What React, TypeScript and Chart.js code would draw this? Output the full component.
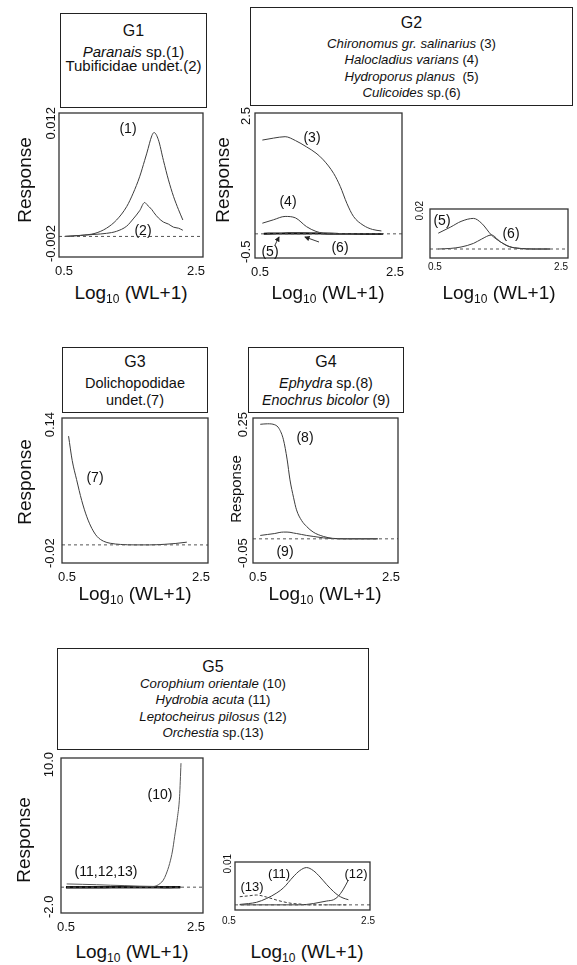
import React, { useEffect, useRef } from "react";
import { Chart, registerables } from "chart.js";
Chart.register(...registerables);

const FONT = "'Liberation Sans', Arial, Helvetica, sans-serif";

// ---- shared axis ticks ----
const xTickValues = [0.5, 2.5];
const xTickLabels = ["0.5", "2.5"];

// ---- G1 ----
const g1X = [0.58, 0.8, 1.0, 1.16, 1.3, 1.44, 1.53, 1.62, 1.69, 1.72, 1.79, 1.82, 1.88, 1.95, 2.02, 2.09, 2.16, 2.22];
const g1Paranais = [0.0, 0.0001, 0.0003, 0.0008, 0.0016, 0.0029, 0.0042, 0.0058, 0.0074, 0.0081, 0.0098, 0.0101, 0.0094, 0.0074, 0.0055, 0.0039, 0.0026, 0.0016];
const g1Tubificidae = [0.0, 0.0001, 0.0002, 0.0003, 0.0005, 0.001, 0.0017, 0.0025, 0.0033, 0.0031, 0.0026, 0.0023, 0.0018, 0.0014, 0.0012, 0.0009, 0.0008, 0.0006];
const g1YTicks = [0.012, -0.002];
const g1YLabels = ["0.012", "-0.002"];

// ---- G2 main ----
const g2X = [0.6, 0.75, 0.91, 1.05, 1.2, 1.33, 1.43, 1.57, 1.66, 1.75, 1.84, 1.97, 2.1, 2.22];
const g2Chironomus = [1.94, 1.98, 2.01, 1.93, 1.8, 1.67, 1.53, 1.25, 0.98, 0.63, 0.36, 0.18, 0.09, 0.06];
const g2Halocladius = [0.22, 0.29, 0.36, 0.33, 0.15, 0.05, 0.015, 0.005, 0.002, 0.001, 0.0, 0.0, 0.0, 0.0];
const g2YTicks = [2.5, -0.5];
const g2YLabels = ["2.5", "-0.5"];

// ---- G2 inset (species 5 and 6) ----
const g2sX = [0.62, 0.8, 0.95, 1.13, 1.25, 1.39, 1.52, 1.65, 1.8, 2.0, 2.24];
const g2Hydroporus = [0.0079, 0.011, 0.0138, 0.0153, 0.0128, 0.007, 0.0036, 0.0012, 0.0003, 0.0, 0.0];
const g2Culicoides = [0.0, 0.0003, 0.001, 0.0028, 0.005, 0.007, 0.0036, 0.0012, 0.0003, 0.0, 0.0];
const g2sYTicks = [0.02];
const g2sYLabels = ["0.02"];

// ---- G3 ----
const g3X = [0.59, 0.64, 0.7, 0.77, 0.84, 0.91, 0.98, 1.07, 1.16, 1.3, 1.5, 1.7, 1.9, 2.05, 2.21];
const g3Dolichopodidae = [0.12, 0.093, 0.072, 0.049, 0.031, 0.018, 0.0093, 0.004, 0.0018, 0.0005, 0.0, 0.0, 0.0006, 0.0015, 0.003];
const g3YTicks = [0.14, -0.02];
const g3YLabels = ["0.14", "-0.02"];

// ---- G4 ----
const g4X = [0.6, 0.7, 0.8, 0.86, 0.92, 0.97, 1.01, 1.06, 1.1, 1.17, 1.24, 1.33, 1.47, 1.6, 1.8, 2.0, 2.22];
const g4Ephydra = [0.237, 0.238, 0.236, 0.228, 0.205, 0.165, 0.122, 0.085, 0.06, 0.038, 0.0255, 0.014, 0.005, 0.001, 0.0, 0.0, 0.0];
const g4Enochrus = [0.007, 0.009, 0.011, 0.013, 0.014, 0.014, 0.0135, 0.012, 0.011, 0.009, 0.007, 0.005, 0.002, 0.0005, 0.0, 0.0, 0.0];
const g4YTicks = [0.25, -0.05];
const g4YLabels = ["0.25", "-0.05"];

// ---- G5 main ----
const g5X = [0.58, 0.8, 1.0, 1.2, 1.4, 1.6, 1.8, 1.84, 1.9, 1.94, 1.98, 2.03, 2.07, 2.1, 2.14, 2.17, 2.19];
const g5Corophium = [0.25, 0.22, 0.19, 0.15, 0.12, 0.08, 0.06, 0.1, 0.3, 0.54, 1.0, 1.83, 2.8, 3.9, 5.4, 7.0, 9.6];
const g5YTicks = [10, -2];
const g5YLabels = ["10.0", "-2.0"];

// ---- G5 inset (species 11, 12, 13) ----
const g5sX = [0.57, 0.7, 0.82, 0.97, 1.12, 1.22, 1.36, 1.46, 1.56, 1.66, 1.76, 1.86, 1.96, 2.03, 2.1, 2.18];
const g5Hydrobia = [0.0001, 0.0003, 0.0006, 0.0015, 0.0028, 0.004, 0.0065, 0.008, 0.0087, 0.008, 0.0065, 0.0047, 0.0031, 0.0022, 0.0016, 0.0012];
const g5Leptocheirus = [0.0, 0.0, 0.0, 0.0, 0.0, 0.0, 0.0, 0.0, 0.0001, 0.0003, 0.0006, 0.0009, 0.0012, 0.002, 0.0035, 0.0058];
const g5Orchestia = [0.0019, 0.0021, 0.0023, 0.0018, 0.0011, 0.0007, 0.0003, 0.0002, 0.0, 0.0, 0.0, 0.0, 0.0, 0.0, 0.0, 0.0];
const g5sYTicks = [0.01];
const g5sYLabels = ["0.01"];

const baselineX = [0.5, 2.5];
const baselineY = [0, 0];

type Series = { xs: number[]; ys: number[]; color?: string; width?: number; dash?: number[] };

type PanelProps = {
  l: number; t: number; r: number; b: number;
  yMin: number; yMax: number;
  yTicks: number[]; yLabels: string[];
  series: Series[];
  tickFont: number;
  yLabelOffset: number;
  xLabelTop: number;
  xLabelShift: [number, number];
  topStart?: number;
};

function Panel(p: PanelProps) {
  const ref = useRef<HTMLCanvasElement>(null);
  const padL = 30, padR = 10, padT = 12, padB = 24;
  const w = p.r - p.l + padL + padR;
  const h = p.b - p.t + padT + padB;
  useEffect(() => {
    const datasets: any[] = [
      {
        data: baselineX.map((x, i) => ({ x, y: baselineY[i] })),
        borderColor: "#555",
        borderWidth: 1,
        borderDash: [3, 3],
        pointRadius: 0,
        fill: false,
      },
      ...p.series.map((s) => ({
        data: s.xs.map((x, i) => ({ x, y: s.ys[i] })),
        borderColor: s.color ?? "#3c3c3c",
        borderWidth: s.width ?? 1,
        borderDash: s.dash ?? [],
        pointRadius: 0,
        fill: false,
        cubicInterpolationMode: "monotone",
      })),
    ];
    const decor = {
      id: "decor",
      afterDraw(chart: any) {
        const { ctx, chartArea, scales } = chart;
        const { left, top, right, bottom } = chartArea;
        ctx.save();
        ctx.strokeStyle = "#333";
        ctx.lineWidth = 1.3;
        ctx.strokeRect(left, top, right - left, bottom - top);
        ctx.fillStyle = "#111";
        ctx.font = `${p.tickFont}px ${FONT}`;
        p.yTicks.forEach((v, i) => {
          const py = scales.y.getPixelForValue(v);
          const isTop = v === p.yMax;
          ctx.save();
          ctx.translate(left - p.yLabelOffset, isTop ? py - (p.topStart ?? 6) : py + 5);
          ctx.rotate(-Math.PI / 2);
          ctx.textAlign = isTop ? "right" : "left";
          ctx.textBaseline = "middle";
          ctx.fillText(p.yLabels[i], 0, 0);
          ctx.restore();
        });
        xTickValues.forEach((v, i) => {
          const px = scales.x.getPixelForValue(v);
          ctx.textBaseline = "top";
          if (i === 0) {
            ctx.textAlign = "left";
            ctx.fillText(xTickLabels[i], px + p.xLabelShift[0], bottom + p.xLabelTop);
          } else {
            ctx.textAlign = "right";
            ctx.fillText(xTickLabels[i], px + p.xLabelShift[1], bottom + p.xLabelTop);
          }
        });
        ctx.restore();
      },
    };
    const chart = new Chart(ref.current as HTMLCanvasElement, {
      type: "line",
      data: { datasets },
      options: {
        animation: false,
        responsive: false,
        devicePixelRatio: 1,
        events: [],
        layout: { padding: { left: padL, right: padR, top: padT, bottom: padB } },
        plugins: { legend: { display: false }, tooltip: { enabled: false } },
        scales: {
          x: { type: "linear", min: 0.5, max: 2.5, display: false },
          y: { type: "linear", min: p.yMin, max: p.yMax, display: false },
        },
      } as any,
      plugins: [decor],
    });
    return () => chart.destroy();
  }, []);
  return (
    <canvas
      ref={ref}
      width={w}
      height={h}
      style={{ position: "absolute", left: p.l - padL, top: p.t - padT, width: w, height: h }}
    />
  );
}

type Line = { node: React.ReactNode; cy: number; size: number };
function Box({ l, t, r, b, lines }: { l: number; t: number; r: number; b: number; lines: Line[] }) {
  return (
    <>
      <div
        style={{
          position: "absolute", left: l, top: t, width: r - l, height: b - t,
          border: "1.6px solid #222", boxSizing: "border-box",
        }}
      />
      {lines.map((ln, i) => (
        <div
          key={i}
          style={{
            position: "absolute", left: l, width: r - l, top: ln.cy - 10, height: 20,
            lineHeight: "20px", textAlign: "center", fontSize: ln.size, whiteSpace: "nowrap", color: "#111",
          }}
        >
          {ln.node}
        </div>
      ))}
    </>
  );
}

function XTitle({ cx, cy }: { cx: number; cy: number }) {
  return (
    <div
      style={{
        position: "absolute", left: cx - 80, width: 160, top: cy - 12, height: 24, lineHeight: "24px",
        textAlign: "center", fontSize: 19, whiteSpace: "nowrap", color: "#111",
      }}
    >
      Log<span style={{ fontSize: 12, position: "relative", top: 4 }}>10</span> (WL+1)
    </div>
  );
}

function YTitle({ cx, cy, size }: { cx: number; cy: number; size: number }) {
  return (
    <div
      style={{
        position: "absolute", left: cx, top: cy, fontSize: size, whiteSpace: "nowrap", color: "#111",
        transform: "translate(-50%, -50%) rotate(-90deg)", lineHeight: 1,
      }}
    >
      Response
    </div>
  );
}

function Tag({ x, y, text, size = 14 }: { x: number; y: number; text: string; size?: number }) {
  return (
    <div
      style={{
        position: "absolute", left: x, top: y, transform: "translate(-50%, -50%)",
        fontSize: size, whiteSpace: "nowrap", lineHeight: 1, color: "#111",
      }}
    >
      {text}
    </div>
  );
}

export default function App() {
  return (
    <div
      style={{
        position: "absolute", left: 0, top: 0, width: 577, height: 965, background: "#fff",
        fontFamily: FONT, overflow: "hidden",
      }}
    >
      {/* Boxes */}
      <Box l={60} t={13} r={207} b={108} lines={[
        { node: "G1", cy: 31, size: 16 },
        { node: <><i>Paranais</i> sp.(1)</>, cy: 52, size: 15 },
        { node: "Tubificidae undet.(2)", cy: 66, size: 15 },
      ]} />
      <Box l={250} t={7} r={573} b={106} lines={[
        { node: "G2", cy: 23, size: 16 },
        { node: <><i>Chironomus gr. salinarius</i> (3)</>, cy: 43.5, size: 13.2 },
        { node: <><i>Halocladius varians</i> (4)</>, cy: 60, size: 13.2 },
        { node: <><i>Hydroporus planus</i>&nbsp; (5)</>, cy: 76.5, size: 13.2 },
        { node: <><i>Culicoides</i> sp.(6)</>, cy: 92.5, size: 13.2 },
      ]} />
      <Box l={62} t={347} r={208} b={413} lines={[
        { node: "G3", cy: 362, size: 16 },
        { node: "Dolichopodidae", cy: 383, size: 14.5 },
        { node: "undet.(7)", cy: 400, size: 14.5 },
      ]} />
      <Box l={248} t={347} r={404} b={413} lines={[
        { node: "G4", cy: 362, size: 16 },
        { node: <><i>Ephydra</i> sp.(8)</>, cy: 383, size: 14.3 },
        { node: <><i>Enochrus bicolor</i> (9)</>, cy: 400, size: 14.3 },
      ]} />
      <Box l={57} t={648} r={369} b={750} lines={[
        { node: "G5", cy: 667, size: 16 },
        { node: <><i>Corophium orientale</i> (10)</>, cy: 684, size: 13.2 },
        { node: <><i>Hydrobia acuta</i> (11)</>, cy: 700, size: 13.2 },
        { node: <><i>Leptocheirus pilosus</i> (12)</>, cy: 716.5, size: 13.2 },
        { node: <><i>Orchestia</i> sp.(13)</>, cy: 733, size: 13.2 },
      ]} />

      {/* Panels */}
      <Panel l={59} t={113} r={203} b={257} yMin={-0.002} yMax={0.012}
        yTicks={g1YTicks} yLabels={g1YLabels} tickFont={13} yLabelOffset={8} xLabelTop={8} xLabelShift={[-4, 2]}
        series={[{ xs: g1X, ys: g1Paranais }, { xs: g1X, ys: g1Tubificidae }]} />
      <Panel l={255} t={113} r={402} b={258} yMin={-0.5} yMax={2.5}
        yTicks={g2YTicks} yLabels={g2YLabels} tickFont={13} yLabelOffset={9} xLabelTop={8} xLabelShift={[-4, 2]}
        series={[
          { xs: g2X, ys: g2Chironomus }, { xs: g2X, ys: g2Halocladius },
          { xs: g2sX, ys: g2Hydroporus, color: "#111", width: 1.6 }, { xs: g2sX, ys: g2Culicoides, color: "#111", width: 1.6 },
        ]} />
      <Panel l={430} t={209} r={568} b={258} yMin={-0.0045} yMax={0.02}
        yTicks={g2sYTicks} yLabels={g2sYLabels} tickFont={10} yLabelOffset={10} xLabelTop={4} xLabelShift={[-2, 0]} topStart={8}
        series={[{ xs: g2sX, ys: g2Hydroporus }, { xs: g2sX, ys: g2Culicoides }]} />
      <Panel l={62} t={418} r={208} b={563} yMin={-0.02} yMax={0.14}
        yTicks={g3YTicks} yLabels={g3YLabels} tickFont={13} yLabelOffset={12} xLabelTop={8} xLabelShift={[-4, 2]}
        series={[{ xs: g3X, ys: g3Dolichopodidae }]} />
      <Panel l={253} t={418} r={398} b={563} yMin={-0.05} yMax={0.25}
        yTicks={g4YTicks} yLabels={g4YLabels} tickFont={13} yLabelOffset={10} xLabelTop={8} xLabelShift={[-4, 2]}
        series={[{ xs: g4X, ys: g4Ephydra }, { xs: g4X, ys: g4Enochrus }]} />
      <Panel l={61} t={758} r={203} b={913} yMin={-2} yMax={10}
        yTicks={g5YTicks} yLabels={g5YLabels} tickFont={13} yLabelOffset={12} xLabelTop={8} xLabelShift={[-4, 2]}
        series={[
          { xs: g5X, ys: g5Corophium, color: "#555" },
          { xs: g5sX, ys: g5Hydrobia, color: "#111", width: 2 },
          { xs: g5sX, ys: g5Leptocheirus, color: "#111", width: 2 },
          { xs: g5sX, ys: g5Orchestia, color: "#111", width: 2 },
        ]} />
      <Panel l={235} t={862} r={370} b={910} yMin={-0.0012} yMax={0.01}
        yTicks={g5sYTicks} yLabels={g5sYLabels} tickFont={10} yLabelOffset={7} xLabelTop={6} xLabelShift={[-13, 5]} topStart={8}
        series={[
          { xs: g5sX, ys: g5Hydrobia }, { xs: g5sX, ys: g5Leptocheirus },
          { xs: g5sX, ys: g5Orchestia, dash: [3, 2] },
        ]} />

      {/* Axis titles */}
      <YTitle cx={24} cy={180} size={19} />
      <YTitle cx={222} cy={180} size={19} />
      <YTitle cx={24} cy={482} size={19} />
      <YTitle cx={235} cy={489} size={15} />
      <YTitle cx={23} cy={840} size={19} />
      <XTitle cx={131} cy={293} />
      <XTitle cx={328} cy={293} />
      <XTitle cx={499} cy={293} />
      <XTitle cx={135} cy={594} />
      <XTitle cx={325} cy={594} />
      <XTitle cx={132} cy={952} />
      <XTitle cx={307} cy={952} />

      {/* Curve tags */}
      <Tag x={128} y={128} text="(1)" />
      <Tag x={143} y={230} text="(2)" />
      <Tag x={312} y={137} text="(3)" />
      <Tag x={288} y={201} text="(4)" />
      <Tag x={270} y={251} text="(5)" />
      <Tag x={340} y={247} text="(6)" />
      <Tag x={442} y={220} text="(5)" />
      <Tag x={511} y={233} text="(6)" />
      <Tag x={95} y={477} text="(7)" />
      <Tag x={305} y={437} text="(8)" />
      <Tag x={285} y={551} text="(9)" />
      <Tag x={160} y={794} text="(10)" />
      <Tag x={106} y={871} text="(11,12,13)" />
      <Tag x={252} y={886} text="(13)" size={13} />
      <Tag x={279} y={873} text="(11)" size={13} />
      <Tag x={356} y={873} text="(12)" size={13} />

      {/* Pointer arrows for (5) and (6) */}
      <svg width={577} height={965} style={{ position: "absolute", left: 0, top: 0, pointerEvents: "none" }}>
        <defs>
          <marker id="ah" markerWidth="6" markerHeight="6" refX="5" refY="3" orient="auto">
            <path d="M0,0 L6,3 L0,6 z" fill="#222" />
          </marker>
        </defs>
        <line x1={275} y1={245} x2={279} y2={237} stroke="#222" strokeWidth={0.9} markerEnd="url(#ah)" />
        <line x1={319} y1={242} x2={305} y2={237} stroke="#222" strokeWidth={0.9} markerEnd="url(#ah)" />
      </svg>
    </div>
  );
}
